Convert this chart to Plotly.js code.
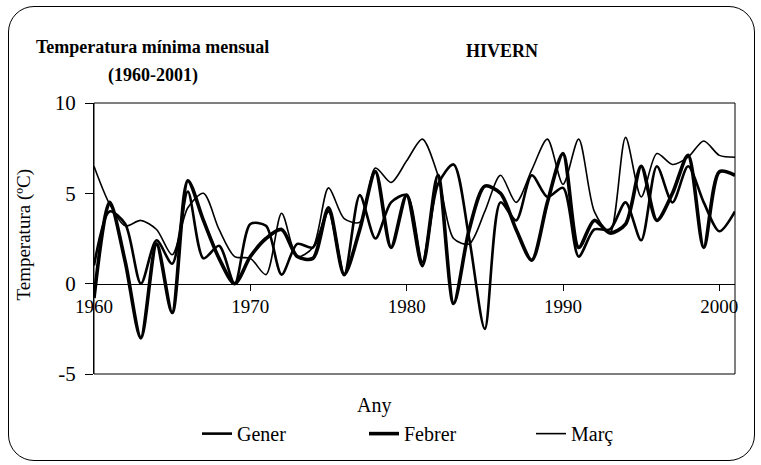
<!DOCTYPE html>
<html>
<head>
<meta charset="utf-8">
<script src="https://cdn.plot.ly/plotly-3.0.1.min.js"></script>
<style>
  html, body { margin: 0; padding: 0; background: #fff; }
  #frame { position: absolute; left: 8px; top: 6px; width: 747px; height: 455px;
           border: 1.5px solid #000; border-radius: 26px; box-sizing: border-box; }
  #chart { position: absolute; left: 0; top: 0; width: 761px; height: 465px; }
</style>
</head>
<body>
<div id="frame"></div>
<div id="chart"></div>
<script>
const years = [];
for (let y = 1960; y <= 2001; y++) years.push(y);

const gener = [1.0, 4.0, 3.3, 0.0, 2.4, 1.1, 5.1, 1.4, 2.1, 0.0,
               3.3, 3.2, 0.5, 2.2, 2.0, 4.0, 0.5, 4.9, 2.5, 4.5,
               4.9, 1.2, 5.5, 6.6, 2.5, -2.5, 4.5, 3.5, 6.0, 4.8,
               5.3, 1.5, 3.0, 3.0, 4.5, 2.4, 6.5, 4.5, 6.5, 4.5,
               2.9, 4.0];
const febrer = [-0.8, 4.5, 1.2, -3.0, 2.2, -1.6, 5.7, 3.5, 1.4, 0.0,
                1.5, 2.5, 3.0, 1.5, 1.4, 4.2, 0.5, 3.0, 6.2, 2.0,
                4.9, 1.0, 6.0, -1.1, 3.0, 5.4, 5.0, 3.0, 1.3, 4.5,
                7.2, 2.0, 3.5, 2.8, 3.3, 6.5, 3.5, 5.0, 7.1, 2.0,
                6.2, 6.0];
const marc = [6.5, 4.4, 3.2, 3.5, 3.0, 1.6, 4.2, 5.0, 3.0, 1.5,
              1.4, 0.5, 3.9, 1.5, 2.0, 5.3, 3.6, 3.4, 6.4, 5.6,
              6.8, 8.0, 6.0, 2.5, 2.2, 4.0, 6.0, 4.5, 6.3, 8.0,
              5.5, 8.0, 4.0, 2.8, 8.1, 4.8, 7.2, 6.6, 7.0, 7.9,
              7.1, 7.0];

const xTicks = [1960, 1970, 1980, 1990, 2000];
const yTicks = [-5, 0, 5, 10];

const serif = '"Liberation Serif", "Times New Roman", serif';

const traces = [
  { x: years, y: gener, name: 'Gener', mode: 'lines',
    line: { color: '#000', width: 2.6, shape: 'spline', smoothing: 0.8 } },
  { x: years, y: febrer, name: 'Febrer', mode: 'lines',
    line: { color: '#000', width: 3.6, shape: 'spline', smoothing: 0.8 } },
  { x: years, y: marc, name: 'Març', mode: 'lines',
    line: { color: '#000', width: 1.6, shape: 'spline', smoothing: 0.8 } }
];

const layout = {
  width: 761, height: 465,
  margin: { l: 94, r: 26, t: 103, b: 86 },
  paper_bgcolor: 'rgba(0,0,0,0)',
  plot_bgcolor: 'rgba(0,0,0,0)',
  font: { family: serif, color: '#000', size: 19 },
  showlegend: true,
  legend: {
    orientation: 'h', x: (197 - 94) / 641, xanchor: 'left', y: -0.22, yanchor: 'middle',
    font: { family: serif, size: 20, color: '#000' },
    entrywidth: 122, entrywidthmode: 'pixels',
    bgcolor: 'rgba(0,0,0,0)', tracegroupgap: 0
  },
  xaxis: {
    range: [1960, 2001], tickvals: xTicks, ticktext: xTicks.map(String),
    anchor: 'free', position: 1 / 3,
    showline: true, linecolor: '#000', linewidth: 1,
    ticks: 'outside', ticklen: 6, tickcolor: '#000',
    showgrid: false, zeroline: false,
    tickfont: { family: serif, size: 19, color: '#000' }
  },
  yaxis: {
    range: [-5, 10], tickvals: yTicks, ticktext: yTicks.map(String),
    showline: true, linecolor: '#000', linewidth: 1,
    ticks: 'outside', ticklen: 8, tickcolor: '#000',
    ticklabelstandoff: 5,
    showgrid: false, zeroline: false,
    tickfont: { family: serif, size: 21, color: '#000' }
  },
  shapes: [
    { type: 'rect', xref: 'paper', yref: 'paper', x0: 0, x1: 1, y0: 0, y1: 1,
      line: { color: '#000', width: 1 }, fillcolor: 'rgba(0,0,0,0)' }
  ],
  annotations: [
    { text: '<b>Temperatura mínima mensual</b>', xref: 'paper', yref: 'paper',
      x: (152 - 94) / 641, y: (379 - 46) / 276, xanchor: 'center', yanchor: 'middle',
      showarrow: false, font: { family: serif, size: 18, color: '#000' } },
    { text: '<b>(1960-2001)</b>', xref: 'paper', yref: 'paper',
      x: (153 - 94) / 641, y: (379 - 75) / 276, xanchor: 'center', yanchor: 'middle',
      showarrow: false, font: { family: serif, size: 18, color: '#000' } },
    { text: '<b>HIVERN</b>', xref: 'paper', yref: 'paper',
      x: (502 - 94) / 641, y: (379 - 50) / 276, xanchor: 'center', yanchor: 'middle',
      showarrow: false, font: { family: serif, size: 18, color: '#000' } },
    { text: 'Temperatura (ºC)', xref: 'paper', yref: 'paper',
      x: (24 - 94) / 641, y: (379 - 237) / 276, xanchor: 'center', yanchor: 'middle',
      textangle: -90, showarrow: false, font: { family: serif, size: 19, color: '#000' } },
    { text: 'Any', xref: 'paper', yref: 'paper',
      x: (374 - 94) / 641, y: (379 - 411) / 276, xanchor: 'center', yanchor: 'middle',
      showarrow: false, font: { family: serif, size: 20, color: '#000' } }
  ]
};

Plotly.newPlot('chart', traces, layout, { displayModeBar: false, staticPlot: true });
</script>
</body>
</html>
